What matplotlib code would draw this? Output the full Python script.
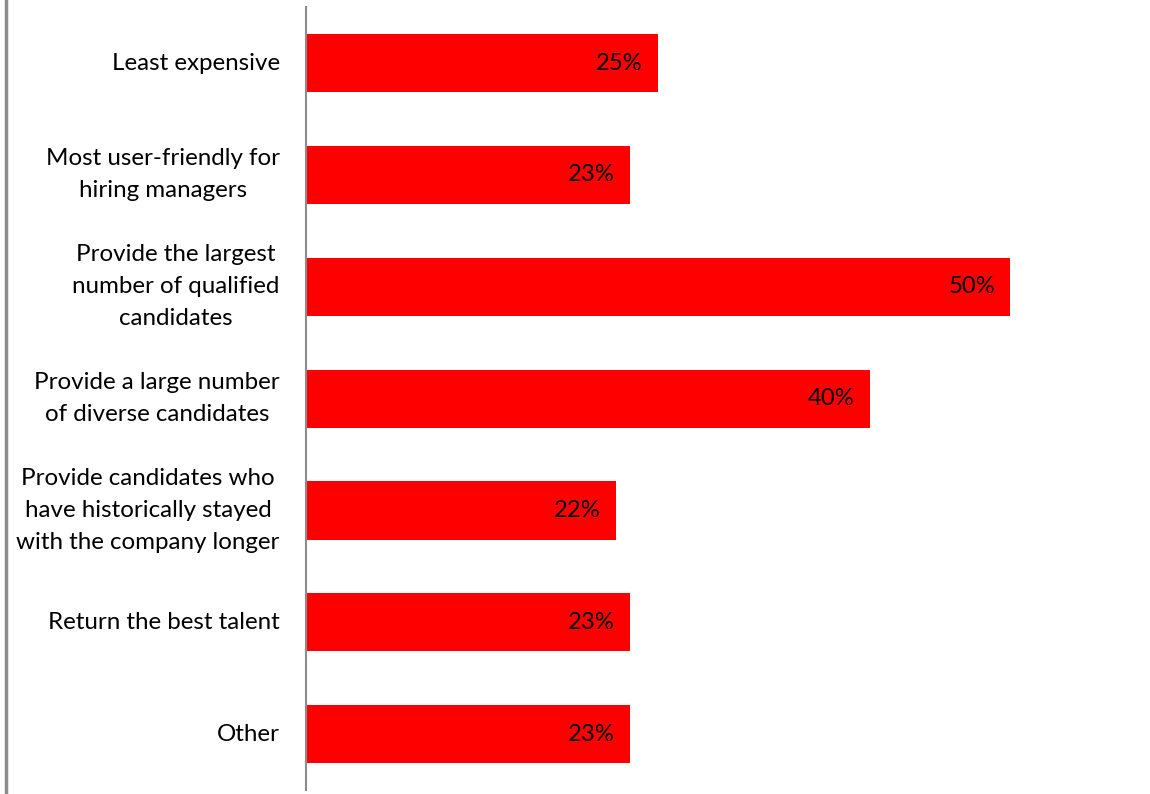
import matplotlib
matplotlib.use("Agg")
import matplotlib.pyplot as plt
from matplotlib.lines import Line2D

# Survey answers, top to bottom
categories = [
    "Least expensive",
    "Most user-friendly for\nhiring managers",
    "Provide the largest\nnumber of qualified\ncandidates",
    "Provide a large number\nof diverse candidates",
    "Provide candidates who\nhave historically stayed\nwith the company longer",
    "Return the best talent",
    "Other",
]
values = [25, 23, 50, 40, 22, 23, 23]

plt.rcParams['font.family'] = ['Lato', 'DejaVu Sans']

fig = plt.figure(figsize=(11.5, 7.94), dpi=100)
ax = fig.add_axes([0.266, 0.005, 0.734, 0.986])

ypos = list(range(len(categories)))
ax.barh(ypos, values, height=0.52, color='#ff0000', edgecolor='none')
ax.set_ylim(len(categories) - 0.5, -0.5)
ax.set_xlim(0, 59.9)

for y, v in zip(ypos, values):
    ax.text(v - 1.1, y, f"{v}%", ha='right', va='center', fontsize=17.2, color='black')

for y, lab in zip(ypos, categories):
    ax.text(-1.85, y, lab, ha='right', va='center', multialignment='center',
            fontsize=17.4, color='black', linespacing=1.64,
            transform=ax.transData)

ax.set_yticks([])
ax.set_xticks([])
for s in ['top', 'right', 'bottom']:
    ax.spines[s].set_visible(False)
ax.spines['left'].set_color('#8c8c8c')
ax.spines['left'].set_linewidth(1.5)

# frame line on the left edge of the figure
fig.add_artist(Line2D([0.005, 0.005], [0, 1], transform=fig.transFigure,
                      color='#8c8c8c', linewidth=2.5))

fig.savefig("out.png", dpi=100)
